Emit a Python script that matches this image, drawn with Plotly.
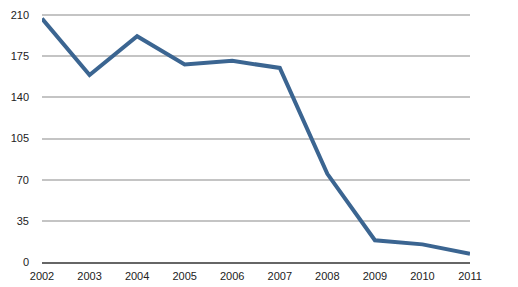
import plotly.graph_objects as go

years = [2002, 2003, 2004, 2005, 2006, 2007, 2008, 2009, 2010, 2011]
values = [207, 159, 192, 168, 171, 165, 75, 18.5, 15, 7]
y_ticks = [0, 35, 70, 105, 140, 175, 210]

fig = go.Figure(go.Scatter(
    x=years, y=values, mode="lines",
    line=dict(color="#3b6591", width=4),
    hoverinfo="skip",
))

fig.update_layout(
    width=518, height=287,
    margin=dict(l=42, r=48, t=13, b=25, autoexpand=False),
    paper_bgcolor="white", plot_bgcolor="white",
    showlegend=False,
    font=dict(family="Liberation Sans, Arial, Helvetica, sans-serif", size=11, color="#222"),
)
fig.update_xaxes(
    range=[2002, 2011], tickvals=years, ticktext=[str(y) for y in years],
    showgrid=False, zeroline=False, automargin=False,
    showline=True, linecolor="#666", linewidth=2,
    ticks="", ticklabelstandoff=3,
)
fig.update_yaxes(
    range=[0, 211.7], tickvals=y_ticks,
    showgrid=True, gridcolor="#c4c4c4", gridwidth=1.5,
    zeroline=False, showline=False, ticks="", automargin=False,
    ticklabelstandoff=12,
)

fig.write_html("out.html")
